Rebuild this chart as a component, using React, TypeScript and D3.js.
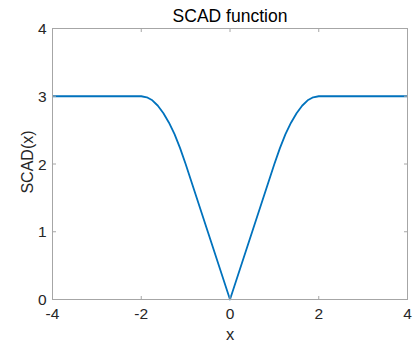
import React from "react";
import * as d3 from "d3";

const xValues = [-4, -3, -2, -1.875, -1.75, -1.625, -1.5, -1.375, -1.25, -1.125, -1, -0.5, 0, 0.5, 1, 1.125, 1.25, 1.375, 1.5, 1.625, 1.75, 1.875, 2, 3, 4];
const yValues = [3, 3, 3, 2.985, 2.94, 2.86, 2.75, 2.61, 2.44, 2.235, 2, 1, 0, 1, 2, 2.235, 2.44, 2.61, 2.75, 2.86, 2.94, 2.985, 3, 3, 3];
const xTicks = [-4, -2, 0, 2, 4];
const yTicks = [0, 1, 2, 3, 4];
const titleText = "SCAD function";
const xLabel = "x";
const yLabel = "SCAD(x)";

export default function App() {
  const W = 419, H = 343;
  const left = 52.5, right = 407.5, top = 28.5, bottom = 299.5;
  const x = d3.scaleLinear().domain([-4, 4]).range([left, right]);
  const y = d3.scaleLinear().domain([0, 4]).range([bottom, top]);
  const pts = xValues.map((v, i) => [v, yValues[i]] as [number, number]);
  const line = d3.line<[number, number]>().x(d => x(d[0])).y(d => y(d[1])).curve(d3.curveLinear);
  const axisColor = "#a6a6a6";
  const textColor = "#262626";
  const font = "'Liberation Sans', Arial, Helvetica, sans-serif";
  const tl = 3.5;
  return (
    <svg width={W} height={H} style={{ position: "absolute", left: 0, top: 0, background: "#fff" }} fontFamily={font}>
      <rect x={0} y={0} width={W} height={H} fill="#fff" />
      <path d={line(pts) || ""} fill="none" stroke="#0072BD" strokeWidth={1.8} strokeLinejoin="round" />
      <rect x={left} y={top} width={right - left} height={bottom - top} fill="none" stroke={axisColor} strokeWidth={1} />
      {xTicks.map(t => (
        <g key={"x" + t}>
          <line x1={x(t)} x2={x(t)} y1={bottom} y2={bottom - tl} stroke={axisColor} />
          <line x1={x(t)} x2={x(t)} y1={top} y2={top + tl} stroke={axisColor} />
          <text x={x(t)} y={319} textAnchor="middle" fontSize={15.5} fill={textColor}>{t < 0 ? "-" + Math.abs(t) : String(t)}</text>
        </g>
      ))}
      {yTicks.map(t => (
        <g key={"y" + t}>
          <line x1={left} x2={left + tl} y1={y(t)} y2={y(t)} stroke={axisColor} />
          <line x1={right} x2={right - tl} y1={y(t)} y2={y(t)} stroke={axisColor} />
          <text x={46.5} y={y(t)} dy="0.36em" textAnchor="end" fontSize={15.5} fill={textColor}>{String(t)}</text>
        </g>
      ))}
      <text x={(left + right) / 2} y={22} textAnchor="middle" fontSize={17.5} fill="#000">{titleText}</text>
      <text x={(left + right) / 2} y={339.5} textAnchor="middle" fontSize={16.5} fill={textColor}>{xLabel}</text>
      <text transform={`translate(32.5,162) rotate(-90)`} textAnchor="middle" fontSize={16} fill={textColor}>{yLabel}</text>
    </svg>
  );
}
